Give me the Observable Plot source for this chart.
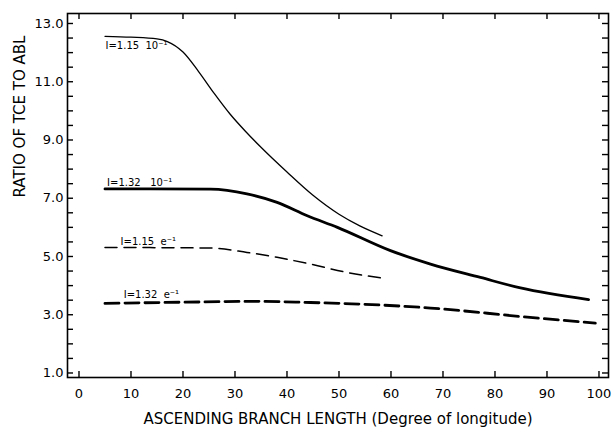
<!DOCTYPE html>
<html>
<head>
<meta charset="utf-8">
<script src="https://cdn.jsdelivr.net/npm/d3@7"></script>
<script src="https://cdn.jsdelivr.net/npm/@observablehq/plot@0.6"></script>
<style>
  html, body { margin: 0; padding: 0; background: #fff; }
  svg { display: block; }
</style>
</head>
<body>
<div id="chart"></div>
<script>
// Series: I=1.15 10^-1 (thin solid)
const s1x = [5, 10, 15, 17, 20, 23, 26, 29, 32, 35, 40, 45, 50, 54, 58.3];
const s1y = [12.56, 12.53, 12.47, 12.38, 12.02, 11.35, 10.6, 9.9, 9.3, 8.75, 7.9, 7.1, 6.45, 6.05, 5.71];
// Series: I=1.32 10^-1 (thick solid)
const s2x = [5, 13.75, 25.3, 32.3, 38.1, 43.9, 49.7, 59.9, 67.6, 77.2, 84.9, 98.0];
const s2y = [7.32, 7.32, 7.31, 7.15, 6.86, 6.40, 6.00, 5.20, 4.74, 4.28, 3.92, 3.52];
// Series: I=1.15 e^-1 (thin dashed)
const s3x = [5, 25.3, 32.3, 38.1, 44.5, 51.6, 58.6];
const s3y = [5.31, 5.29, 5.14, 4.97, 4.74, 4.45, 4.25];
// Series: I=1.32 e^-1 (thick dashed)
const s4x = [5, 20, 34.3, 44.5, 50.3, 67.6, 84.9, 99.3];
const s4y = [3.39, 3.43, 3.46, 3.42, 3.39, 3.23, 2.94, 2.71];

// Curve labels
const labelText = ["I=1.15  10\u207B\u00B9", "I=1.32   10\u207B\u00B9", "I=1.15  e\u207B\u00B9", "I=1.32  e\u207B\u00B9"];
const labelX = [5.1, 5.4, 8.0, 8.6];
const labelY = [12.24, 7.52, 5.50, 3.67];

// Ticks
const xTicks = [0, 10, 20, 30, 40, 50, 60, 70, 80, 90, 100];
const yTicks = [1, 3, 5, 7, 9, 11, 13];
const yMinor = d3.range(1, 13.01, 0.5);

const xTitle = "ASCENDING BRANCH LENGTH (Degree of longitude)";
const yTitle = "RATIO OF TCE TO ABL";

const toRows = (xs, ys) => xs.map((x, i) => ({x, y: ys[i]}));
const labels = labelText.map((t, i) => ({t, x: labelX[i], y: labelY[i]}));

const W = 614, H = 433, mL = 67, mR = 6, mT = 13, mB = 56;
const pw = W - mL - mR, ph = H - mT - mB;
const font = "DejaVu Sans, sans-serif";

const chart = Plot.plot({
  width: W,
  height: H,
  marginLeft: mL,
  marginRight: mR,
  marginTop: mT,
  marginBottom: mB,
  style: {fontFamily: font, background: "#fff", color: "#000"},
  x: {domain: [-2.21, 101.83]},
  y: {domain: [0.845, 13.343]},
  marks: [
    Plot.frame({stroke: "#000", strokeWidth: 1.6}),
    // inward ticks
    Plot.tickY(yMinor, {y: d => d, insetRight: pw - 6, stroke: "#000", strokeWidth: 1.4}),
    Plot.tickY(yMinor, {y: d => d, insetLeft: pw - 6, stroke: "#000", strokeWidth: 1.4}),
    Plot.tickX(xTicks, {x: d => d, insetTop: ph - 6, stroke: "#000", strokeWidth: 1.4}),
    Plot.tickX(xTicks, {x: d => d, insetBottom: ph - 6, stroke: "#000", strokeWidth: 1.4}),
    Plot.axisY(yTicks, {tickSize: 0, tickPadding: 4, tickFormat: d3.format(".1f"), fontSize: 13, label: null}),
    Plot.axisX(xTicks, {tickSize: 0, tickPadding: 11, tickFormat: d => String(d), fontSize: 13, label: null}),
    // curves
    Plot.line(toRows(s1x, s1y), {x: "x", y: "y", curve: "monotone-x", stroke: "#000", strokeWidth: 1.3}),
    Plot.line(toRows(s2x, s2y), {x: "x", y: "y", curve: "monotone-x", stroke: "#000", strokeWidth: 2.8}),
    Plot.line(toRows(s3x, s3y), {x: "x", y: "y", curve: "monotone-x", stroke: "#000", strokeWidth: 1.5, strokeDasharray: "12,7"}),
    Plot.line(toRows(s4x, s4y), {x: "x", y: "y", curve: "monotone-x", stroke: "#000", strokeWidth: 2.8, strokeDasharray: "14,6"}),
    Plot.text(labels, {x: "x", y: "y", text: "t", textAnchor: "start", fontSize: 10, fill: "#000"}),
    // axis titles
    Plot.text([xTitle], {frameAnchor: "bottom", dy: 46, fontSize: 15, fill: "#000"}),
    Plot.text([yTitle], {frameAnchor: "left", dx: -47, dy: 2, rotate: -90, fontSize: 15, fill: "#000"})
  ]
});
document.getElementById("chart").appendChild(chart);
</script>
</body>
</html>
